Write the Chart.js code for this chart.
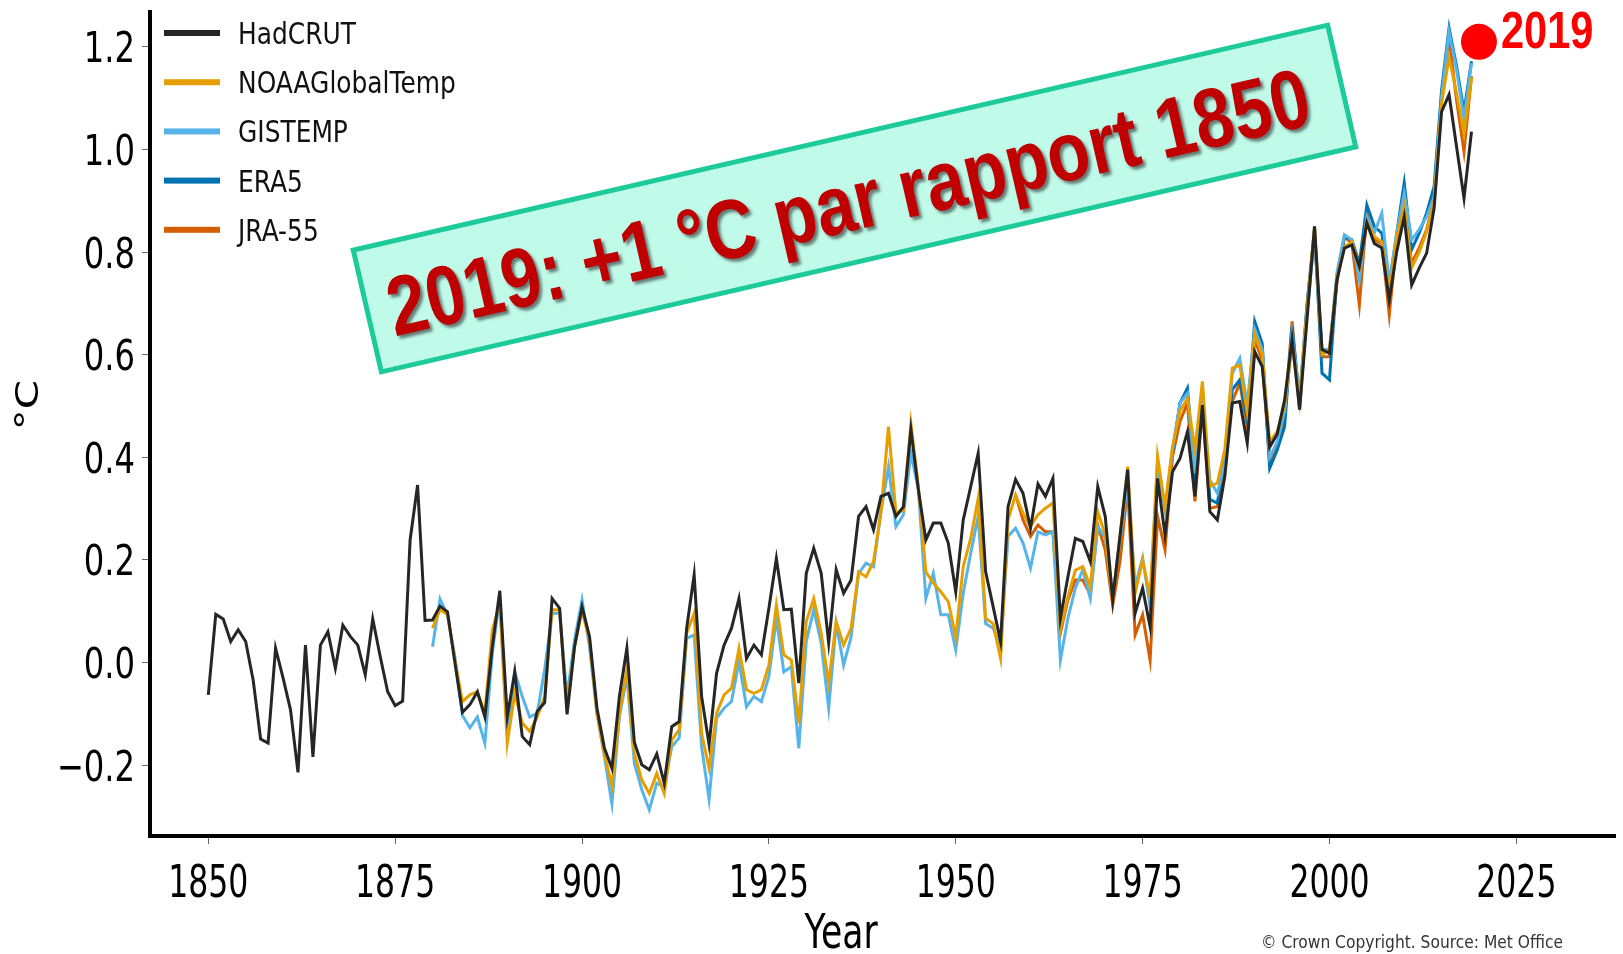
<!DOCTYPE html>
<html>
<head>
<meta charset="utf-8">
<title>Température moyenne mondiale</title>
<script src="https://cdn.jsdelivr.net/npm/chart.js@4.4.1/dist/chart.umd.min.js"></script>
<style>
  html, body { margin: 0; padding: 0; background: #fff; }
  canvas { display: block; }
</style>
</head>
<body>
<canvas id="tempChart" width="1623" height="954"></canvas>
<script>
// Annual global temperature anomalies (°C, relative to 1850-1900)
const hadcrutStart = 1850;
const hadcrut = [
  -0.063, 0.094, 0.085, 0.041, 0.064, 0.041, -0.034, -0.149, -0.157, 0.028,
  -0.030, -0.092, -0.214, 0.034, -0.184, 0.034, 0.060, -0.011, 0.073, 0.051,
  0.034, -0.024, 0.085, 0.012, -0.057, -0.084, -0.075, 0.239, 0.346, 0.082,
  0.083, 0.110, 0.099, -0.001, -0.097, -0.082, -0.057, -0.106, 0.031, 0.140,
  -0.106, -0.018, -0.144, -0.160, -0.095, -0.078, 0.125, 0.106, -0.101, 0.031,
  0.109, 0.051, -0.089, -0.167, -0.206, -0.066, 0.028, -0.155, -0.199, -0.209,
  -0.178, -0.235, -0.125, -0.115, 0.067, 0.171, -0.066, -0.160, -0.021, 0.034,
  0.067, 0.125, 0.008, 0.034, 0.015, 0.106, 0.203, 0.103, 0.104, -0.040,
  0.174, 0.223, 0.174, 0.038, 0.181, 0.135, 0.161, 0.285, 0.304, 0.259,
  0.324, 0.330, 0.285, 0.304, 0.454, 0.337, 0.239, 0.272, 0.272, 0.233,
  0.138, 0.278, 0.343, 0.408, 0.177, 0.109, 0.041, 0.304, 0.357, 0.330,
  0.262, 0.348, 0.324, 0.359, 0.086, 0.167, 0.242, 0.236, 0.197, 0.343,
  0.285, 0.122, 0.250, 0.376, 0.096, 0.145, 0.070, 0.359, 0.249, 0.372,
  0.398, 0.450, 0.324, 0.502, 0.294, 0.278, 0.363, 0.506, 0.509, 0.428,
  0.606, 0.577, 0.420, 0.445, 0.512, 0.630, 0.493, 0.670, 0.850, 0.610,
  0.603, 0.746, 0.808, 0.814, 0.772, 0.857, 0.817, 0.808, 0.707, 0.801,
  0.869, 0.736, 0.769, 0.798, 0.886, 1.074, 1.107, 1.006, 0.905, 1.035
];

const noaaStart = 1880;
const noaa = [
  0.067, 0.103, 0.094, 0.005, -0.076, -0.063, -0.057, -0.099, 0.064, 0.116,
  -0.157, -0.060, -0.118, -0.134, -0.106, -0.066, 0.103, 0.103, -0.092, 0.031,
  0.100, 0.045, -0.100, -0.180, -0.240, -0.100, -0.014, -0.177, -0.229, -0.255,
  -0.216, -0.255, -0.151, -0.131, 0.057, 0.096, -0.138, -0.206, -0.099, -0.063,
  -0.050, 0.028, -0.053, -0.060, -0.053, -0.005, 0.112, 0.015, 0.005, -0.118,
  0.080, 0.125, 0.057, -0.040, 0.080, 0.034, 0.067, 0.177, 0.167, 0.197,
  0.294, 0.460, 0.291, 0.297, 0.466, 0.343, 0.177, 0.155, 0.138, 0.119,
  0.050, 0.187, 0.242, 0.320, 0.086, 0.076, 0.008, 0.278, 0.327, 0.291,
  0.265, 0.288, 0.301, 0.311, 0.064, 0.128, 0.180, 0.187, 0.148, 0.294,
  0.249, 0.122, 0.250, 0.382, 0.135, 0.200, 0.128, 0.402, 0.304, 0.421,
  0.490, 0.515, 0.415, 0.548, 0.343, 0.350, 0.415, 0.574, 0.580, 0.487,
  0.640, 0.600, 0.430, 0.450, 0.500, 0.620, 0.510, 0.690, 0.850, 0.600,
  0.610, 0.750, 0.810, 0.820, 0.770, 0.860, 0.830, 0.820, 0.720, 0.830,
  0.890, 0.770, 0.800, 0.840, 0.900, 1.090, 1.180, 1.110, 1.030, 1.140
];

const gistempStart = 1880;
const gistemp = [
  0.031, 0.124, 0.093, 0.010, -0.103, -0.127, -0.106, -0.157, 0.018, 0.129,
  -0.144, -0.018, -0.066, -0.106, -0.099, -0.014, 0.096, 0.096, -0.066, 0.044,
  0.122, 0.031, -0.099, -0.183, -0.275, -0.106, -0.027, -0.196, -0.248, -0.287,
  -0.235, -0.243, -0.164, -0.147, 0.047, 0.054, -0.164, -0.266, -0.108, -0.089,
  -0.076, 0.002, -0.086, -0.066, -0.076, -0.027, 0.086, -0.018, -0.008, -0.167,
  0.041, 0.103, 0.038, -0.089, 0.076, -0.005, 0.050, 0.174, 0.194, 0.187,
  0.294, 0.382, 0.265, 0.288, 0.408, 0.337, 0.125, 0.174, 0.093, 0.093,
  0.025, 0.135, 0.213, 0.285, 0.076, 0.067, 0.031, 0.246, 0.262, 0.233,
  0.184, 0.255, 0.249, 0.255, 0.005, 0.086, 0.145, 0.181, 0.125, 0.265,
  0.243, 0.132, 0.240, 0.350, 0.148, 0.204, 0.109, 0.389, 0.298, 0.415,
  0.506, 0.525, 0.369, 0.522, 0.356, 0.330, 0.389, 0.564, 0.593, 0.502,
  0.650, 0.610, 0.400, 0.430, 0.490, 0.640, 0.520, 0.680, 0.830, 0.610,
  0.610, 0.760, 0.834, 0.824, 0.746, 0.869, 0.837, 0.876, 0.740, 0.837,
  0.915, 0.824, 0.844, 0.869, 0.908, 1.103, 1.230, 1.155, 1.061, 1.168
];

const era5Start = 1979;
const era5 = [
  0.408, 0.506, 0.535, 0.356, 0.522, 0.318, 0.311, 0.402, 0.532, 0.551,
  0.473, 0.665, 0.622, 0.379, 0.414, 0.460, 0.655, 0.512, 0.700, 0.844,
  0.564, 0.551, 0.753, 0.830, 0.824, 0.778, 0.892, 0.850, 0.837, 0.733,
  0.837, 0.935, 0.805, 0.837, 0.876, 0.928, 1.116, 1.237, 1.162, 1.074,
  1.172
];

const jra55Start = 1958;
const jra55 = [
  0.327, 0.278, 0.246, 0.268, 0.255, 0.255, 0.057, 0.122, 0.161, 0.161,
  0.132, 0.268, 0.220, 0.112, 0.200, 0.343, 0.054, 0.093, 0.005, 0.285,
  0.220, 0.402, 0.470, 0.506, 0.314, 0.499, 0.301, 0.304, 0.389, 0.509,
  0.545, 0.460, 0.629, 0.590, 0.389, 0.421, 0.480, 0.665, 0.493, 0.694,
  0.837, 0.596, 0.596, 0.740, 0.830, 0.817, 0.697, 0.876, 0.824, 0.817,
  0.678, 0.824, 0.899, 0.778, 0.808, 0.844, 0.902, 1.103, 1.217, 1.097,
  0.996, 1.143
];

// Red marker next to the 2019 values
const markerYear = 2020;
const markerValue = 1.21;
const markerLabel = '2019';

const bannerText = '2019: +1 °C par rapport 1850';
const copyrightText = '© Crown Copyright. Source: Met Office';

// Turn a start year + values list into {x, y} points
function toPoints(start, values) {
  return values.map((v, i) => ({ x: start + i, y: v }));
}

function makeSeries(label, start, values, color) {
  return {
    label: label,
    data: toPoints(start, values),
    borderColor: color,
    backgroundColor: color,
    borderWidth: 3,
    pointRadius: 0,
    tension: 0,
    fill: false
  };
}

// Draw text squeezed horizontally (the original figure is compressed sideways)
function squishText(ctx, text, x, y, font, sx, align, color) {
  ctx.save();
  ctx.font = font;
  ctx.fillStyle = color || '#111';
  ctx.textAlign = align || 'left';
  ctx.textBaseline = 'alphabetic';
  ctx.translate(x, y);
  ctx.scale(sx, 1);
  ctx.fillText(text, 0, 0);
  ctx.restore();
}

const decorPlugin = {
  id: 'decor',
  afterDraw(chart) {
    const ctx = chart.ctx;
    const xs = chart.scales.x;
    const ys = chart.scales.y;

    // x tick labels
    xs.ticks.forEach(t => {
      const px = xs.getPixelForValue(t.value);
      squishText(ctx, String(t.value), px, 897, '45px "DejaVu Sans"', 0.70, 'center', '#000');
    });

    // y tick labels
    ys.ticks.forEach(t => {
      const py = ys.getPixelForValue(t.value);
      const v = Math.abs(t.value) < 1e-9 ? 0 : t.value;
      const label = v.toFixed(1).replace('-', '\u2212');
      squishText(ctx, label, 135, py + 15.5, '43px "DejaVu Sans"', 0.75, 'right', '#000');
    });

    // axis titles
    squishText(ctx, 'Year', 841, 948, '48px "DejaVu Sans"', 0.72, 'center', '#000');
    ctx.save();
    ctx.translate(38, 405);
    ctx.rotate(-Math.PI / 2);
    ctx.scale(1, 0.75);
    ctx.font = '42px "DejaVu Sans"';
    ctx.fillStyle = '#000';
    ctx.textAlign = 'center';
    ctx.fillText('°C', 0, 0);
    ctx.restore();

    // legend
    const series = chart.data.datasets.filter(d => !d.isMarker);
    series.forEach((d, i) => {
      const cy = 33 + i * 49.2;
      ctx.save();
      ctx.fillStyle = d.borderColor;
      ctx.fillRect(164, cy - 3, 56, 6);
      ctx.restore();
      squishText(ctx, d.label, 238, cy + 11, '30px "DejaVu Sans"', 0.83, 'left', '#111');
    });

    // copyright
    ctx.save();
    ctx.font = '18px "DejaVu Sans"';
    const cw = ctx.measureText(copyrightText).width;
    ctx.restore();
    squishText(ctx, copyrightText, 1261, 948, '18px "DejaVu Sans"', 302 / cw, 'left', '#333');

    // marker label
    const mx = xs.getPixelForValue(markerYear);
    const my = ys.getPixelForValue(markerValue);
    squishText(ctx, markerLabel, mx + 22, my + 6, 'bold 52px "Liberation Sans"', 0.8, 'left', '#ff0000');

    // rotated banner
    ctx.save();
    ctx.translate(854.5, 198.5);
    ctx.rotate(-13 * Math.PI / 180);
    ctx.fillStyle = '#c0fbea';
    ctx.fillRect(-500, -62.5, 1000, 125);
    ctx.lineWidth = 5;
    ctx.strokeStyle = '#1ccb99';
    ctx.strokeRect(-500, -62.5, 1000, 125);
    ctx.font = 'bold 84px "Liberation Sans"';
    const bw = ctx.measureText(bannerText).width;
    ctx.translate(-7, 31);
    ctx.scale(944 / bw, 1);
    ctx.shadowColor = 'rgba(40,40,40,0.6)';
    ctx.shadowOffsetX = 3;
    ctx.shadowOffsetY = 3;
    ctx.shadowBlur = 3;
    ctx.fillStyle = '#c00000';
    ctx.textAlign = 'center';
    ctx.fillText(bannerText, 0, 0);
    ctx.restore();
  }
};

Chart.defaults.font.family = '"DejaVu Sans"';

const ctx = document.getElementById('tempChart').getContext('2d');
const chart = new Chart(ctx, {
  type: 'line',
  data: {
    datasets: [
      makeSeries('HadCRUT', hadcrutStart, hadcrut, '#262626'),
      makeSeries('NOAAGlobalTemp', noaaStart, noaa, '#e69f00'),
      makeSeries('GISTEMP', gistempStart, gistemp, '#56b4e9'),
      makeSeries('ERA5', era5Start, era5, '#0072b2'),
      makeSeries('JRA-55', jra55Start, jra55, '#d55e00'),
      {
        label: markerLabel,
        isMarker: true,
        data: [{ x: markerYear, y: markerValue }],
        showLine: false,
        pointRadius: 18,
        pointBackgroundColor: '#ff0000',
        pointBorderWidth: 0,
        borderColor: '#ff0000',
        backgroundColor: '#ff0000'
      }
    ]
  },
  options: {
    responsive: false,
    animation: false,
    devicePixelRatio: 1,
    layout: {
      autoPadding: false,
      padding: { left: 142, right: 8, top: 12, bottom: 110 }
    },
    plugins: {
      legend: { display: false },
      tooltip: { enabled: false }
    },
    scales: {
      x: {
        type: 'linear',
        min: 1842.2,
        max: 2038.2,
        ticks: { display: false, stepSize: 25, includeBounds: false },
        grid: { drawOnChartArea: false, drawTicks: true, tickLength: 8, color: '#666', lineWidth: 1 },
        border: { display: true, color: '#000', width: 4 }
      },
      y: {
        min: -0.338,
        max: 1.268,
        ticks: { display: false, stepSize: 0.2, includeBounds: false },
        grid: { drawOnChartArea: false, drawTicks: true, tickLength: 8, color: '#666', lineWidth: 1 },
        border: { display: true, color: '#000', width: 4 }
      }
    }
  },
  plugins: [decorPlugin]
});
</script>
</body>
</html>
